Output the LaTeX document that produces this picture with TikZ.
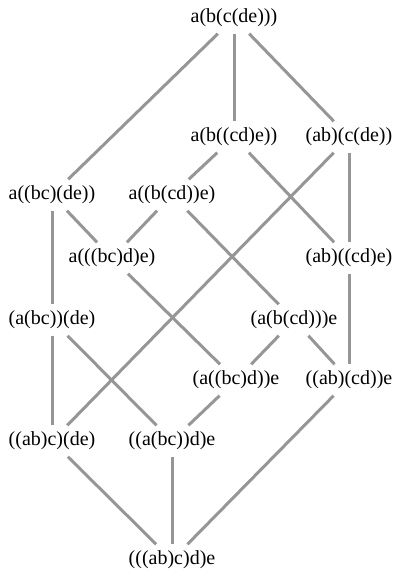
\documentclass[tikz,border=0pt]{standalone}
\usepackage{fontspec}
\setmainfont{Liberation Serif}
\definecolor{conngray}{RGB}{150,150,150}
\begin{document}
\begin{tikzpicture}[x=1pt,y=-1pt,
  lat/.style={rectangle, minimum height=31pt, inner sep=0pt, font=\fontsize{20}{24}\selectfont},
  conn/.style={draw=conngray, line width=3pt}]
\useasboundingbox (0,0) rectangle (399,571);
\node[lat] (n0)  at (234,18)  {a(b(c(de)))};
\node[lat] (n1)  at (234,137) {a(b((cd)e))};
\node[lat] (n2)  at (349,137) {(ab)(c(de))};
\node[lat] (n3)  at (52,195)  {a((bc)(de))};
\node[lat] (n4)  at (172,195) {a((b(cd))e)};
\node[lat] (n5)  at (112,258) {a(((bc)d)e)};
\node[lat] (n6)  at (349,258) {(ab)((cd)e)};
\node[lat] (n7)  at (52,320)  {(a(bc))(de)};
\node[lat] (n8)  at (294,320) {(a(b(cd)))e};
\node[lat] (n9)  at (236,380) {(a((bc)d))e};
\node[lat] (n10) at (349,380) {((ab)(cd))e};
\node[lat] (n11) at (52,441)  {((ab)c)(de)};
\node[lat] (n12) at (172,441) {((a(bc))d)e};
\node[lat] (n13) at (172,560) {(((ab)c)d)e};
\draw[conn] (n0) -- (n1);
\draw[conn] (n0) -- (n2);
\draw[conn] (n0) -- (n3);
\draw[conn] (n1) -- (n4);
\draw[conn] (n1) -- (n6);
\draw[conn] (n2) -- (n6);
\draw[conn] (n2) -- (n11);
\draw[conn] (n3) -- (n7);
\draw[conn] (n3) -- (n5);
\draw[conn] (n4) -- (n5);
\draw[conn] (n4) -- (n8);
\draw[conn] (n5) -- (n9);
\draw[conn] (n6) -- (n10);
\draw[conn] (n7) -- (n11);
\draw[conn] (n7) -- (n12);
\draw[conn] (n8) -- (n9);
\draw[conn] (n8) -- (n10);
\draw[conn] (n9) -- (n12);
\draw[conn] (n11) -- (n13);
\draw[conn] (n12) -- (n13);
\draw[conn] (n10) -- (n13);
\end{tikzpicture}
\end{document}
